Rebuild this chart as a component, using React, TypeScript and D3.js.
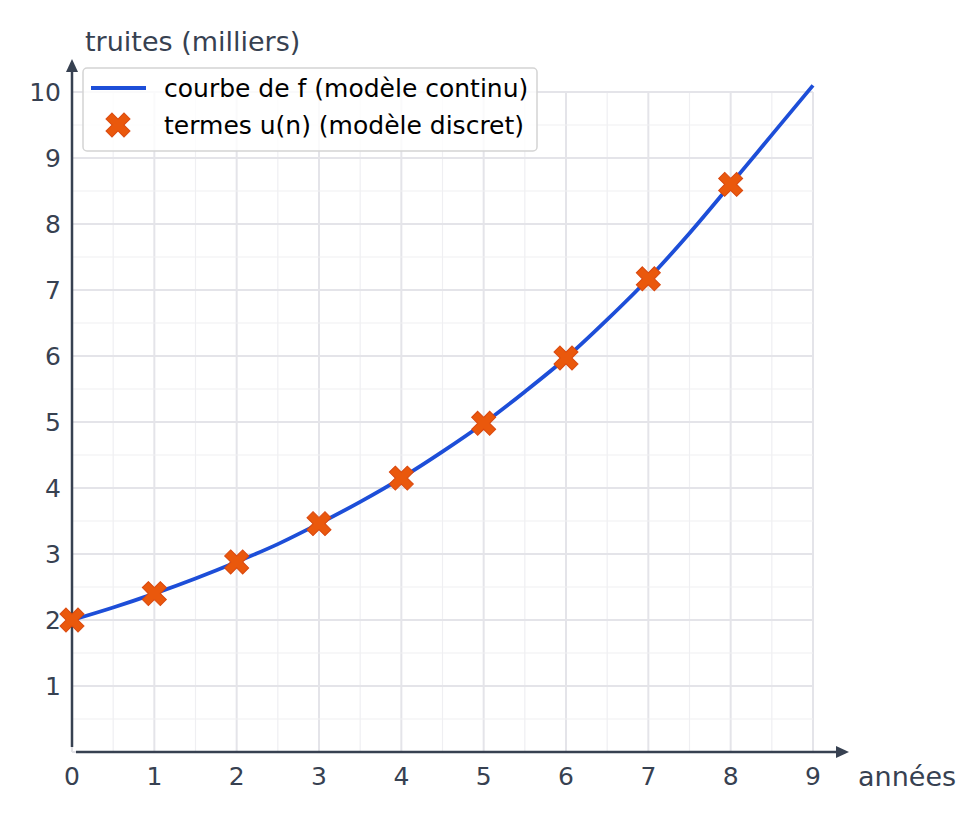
import { useEffect, useRef } from 'react';
import * as d3 from 'd3';

// discrete terms u(n)
const years = [0, 1, 2, 3, 4, 5, 6, 7, 8];
const terms = [2, 2.4, 2.88, 3.46, 4.15, 4.98, 5.97, 7.17, 8.6];

// continuous curve f
const curveX = [0, 0.5, 1, 1.5, 2, 2.5, 3, 3.5, 4, 4.5, 5, 5.5, 6, 6.5, 7, 7.5, 8, 8.5, 9];
const curveY = [2, 2.19, 2.4, 2.63, 2.88, 3.15, 3.46, 3.79, 4.15, 4.55, 4.98, 5.46, 5.97, 6.55, 7.17, 7.86, 8.6, 9.35, 10.1];

const xTicks = [0, 1, 2, 3, 4, 5, 6, 7, 8, 9];
const yTicks = [1, 2, 3, 4, 5, 6, 7, 8, 9, 10];

const legendLabels = ['courbe de f (modèle continu)', 'termes u(n) (modèle discret)'];

const FONT = 'DejaVu Sans, sans-serif';
const AXIS = '#374151';
const BLUE = '#1d4ed8';
const ORANGE = '#ea580c';

export default function App() {
  const svgRef = useRef<SVGSVGElement>(null);

  useEffect(() => {
    if (!svgRef.current) return;
    const svg = d3.select(svgRef.current);
    svg.selectAll('*').remove();

    const x = d3.scaleLinear().domain([0, 9]).range([72, 813]);
    const y = d3.scaleLinear().domain([0, 10]).range([752, 92]);

    // Grid (major every unit, minor every half unit)
    const minor = d3.range(0, 9.01, 0.5);
    const minorY = d3.range(0, 10.01, 0.5);
    const grid = svg.append('g');
    minor.forEach(v => {
      const major = Number.isInteger(v);
      grid.append('line')
        .attr('x1', x(v)).attr('x2', x(v))
        .attr('y1', y(0)).attr('y2', y(10))
        .attr('stroke', major ? '#e4e4e9' : '#efeff2')
        .attr('stroke-width', major ? 2 : 1.2);
    });
    minorY.forEach(v => {
      const major = Number.isInteger(v);
      grid.append('line')
        .attr('x1', x(0)).attr('x2', x(9))
        .attr('y1', y(v)).attr('y2', y(v))
        .attr('stroke', major ? '#e4e4e9' : '#efeff2')
        .attr('stroke-width', major ? 2 : 1.2);
    });

    // Axes with arrows
    svg.append('line')
      .attr('x1', x(0) + 4).attr('x2', 840)
      .attr('y1', y(0)).attr('y2', y(0))
      .attr('stroke', AXIS).attr('stroke-width', 2.5);
    svg.append('path')
      .attr('d', `M849,${y(0)} L836,${y(0) - 6} L836,${y(0) + 6} Z`)
      .attr('fill', AXIS);
    svg.append('line')
      .attr('x1', x(0)).attr('x2', x(0))
      .attr('y1', y(0) - 5).attr('y2', 68)
      .attr('stroke', AXIS).attr('stroke-width', 2.5);
    svg.append('path')
      .attr('d', `M${x(0)},59 L${x(0) - 6},72 L${x(0) + 6},72 Z`)
      .attr('fill', AXIS);

    // Tick labels
    svg.append('g').selectAll('text')
      .data(xTicks)
      .join('text')
      .attr('x', d => x(d))
      .attr('y', 785)
      .attr('text-anchor', 'middle')
      .attr('font-family', FONT)
      .attr('font-size', 25)
      .attr('fill', AXIS)
      .text(d => d);

    svg.append('g').selectAll('text')
      .data(yTicks)
      .join('text')
      .attr('x', 61)
      .attr('y', d => y(d) + 9)
      .attr('text-anchor', 'end')
      .attr('font-family', FONT)
      .attr('font-size', 25)
      .attr('fill', AXIS)
      .text(d => d);

    // Axis titles
    svg.append('text')
      .attr('x', 858).attr('y', 786)
      .attr('font-family', FONT).attr('font-size', 27)
      .attr('fill', AXIS)
      .text('années');
    svg.append('text')
      .attr('x', 85).attr('y', 51)
      .attr('font-family', FONT).attr('font-size', 27)
      .attr('fill', AXIS)
      .text('truites (milliers)');

    // Curve f
    const pts: [number, number][] = curveX.map((v, i) => [v, curveY[i]]);
    const line = d3.line<[number, number]>()
      .x(d => x(d[0]))
      .y(d => y(d[1]))
      .curve(d3.curveMonotoneX);
    svg.append('path')
      .datum(pts)
      .attr('fill', 'none')
      .attr('stroke', BLUE)
      .attr('stroke-width', 3.8)
      .attr('d', line);

    // Terms u(n)
    const marker = d3.symbol().type(d3.symbolCross).size(360)();
    svg.append('g').selectAll('path')
      .data(years)
      .join('path')
      .attr('d', marker)
      .attr('transform', (d, i) => `translate(${x(d)},${y(terms[i])}) rotate(45)`)
      .attr('fill', ORANGE)
      .attr('stroke', '#d9480f')
      .attr('stroke-width', 1);

    // Legend
    const legend = svg.append('g');
    legend.append('rect')
      .attr('x', 83).attr('y', 68)
      .attr('width', 454).attr('height', 83)
      .attr('rx', 4)
      .attr('fill', 'white').attr('fill-opacity', 0.8)
      .attr('stroke', '#d4d4d4').attr('stroke-width', 1.5);
    legend.append('line')
      .attr('x1', 91).attr('x2', 146)
      .attr('y1', 88).attr('y2', 88)
      .attr('stroke', BLUE).attr('stroke-width', 4);
    legend.append('path')
      .attr('d', marker)
      .attr('transform', 'translate(118,125) rotate(45)')
      .attr('fill', ORANGE)
      .attr('stroke', '#d9480f')
      .attr('stroke-width', 1);
    legendLabels.forEach((label, i) => {
      legend.append('text')
        .attr('x', 164).attr('y', 97 + i * 37)
        .attr('font-family', FONT).attr('font-size', 25)
        .attr('fill', '#000')
        .text(label);
    });
  }, []);

  return (
    <svg
      ref={svgRef}
      width={972}
      height={826}
      style={{ position: 'absolute', left: 0, top: 0, background: '#fff' }}
    />
  );
}
